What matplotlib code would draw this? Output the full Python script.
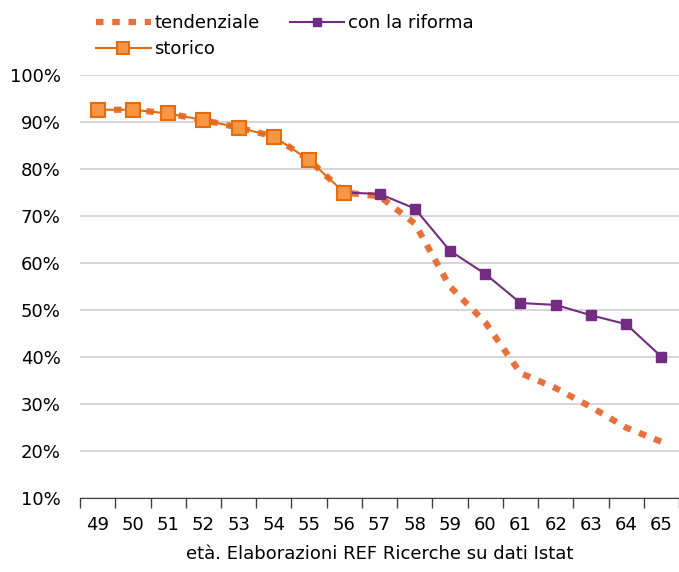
import matplotlib.pyplot as plt
import numpy as np
from matplotlib.ticker import FuncFormatter, FixedLocator

eta = list(range(49, 66))

# storico (dati osservati) fino a 56 anni
storico_eta = list(range(49, 57))
storico = [92.6, 92.6, 91.8, 90.4, 88.8, 86.9, 81.9, 75.0]

# tendenziale senza riforma
tendenziale = [92.6, 92.6, 91.8, 90.4, 88.8, 86.9, 81.9, 75.0,
               74.2, 68.4, 55.0, 47.4, 36.6, 33.4, 29.4, 25.0, 22.0]

# con la riforma, dai 56 anni in poi
riforma_eta = list(range(56, 66))
riforma = [75.0, 74.7, 71.6, 62.6, 57.7, 51.5, 51.1, 48.9, 47.0, 40.1]

fig = plt.figure(figsize=(6.79, 5.72), dpi=100)
ax = fig.add_axes([0.118, 0.129, 0.882, 0.74])

l_tend, = ax.plot(eta, tendenziale, ls=(0, (1.2, 1.4)), lw=4.5, color='#E8703A',
                  zorder=2, label='tendenziale')
l_rif, = ax.plot(riforma_eta, riforma, color='#732C82', lw=1.5, marker='s',
                 markersize=7, markevery=list(range(1, len(riforma))),
                 zorder=3, label='con la riforma')
l_sto, = ax.plot(storico_eta, storico, color='#E46C0A', lw=1.5, marker='s',
                 markersize=10, markerfacecolor='#F79646', markeredgecolor='#E46C0A',
                 markeredgewidth=1.5, zorder=4, label='storico')

ax.set_xlim(48.5, 65.5)
ax.set_ylim(10, 100)
ax.set_yticks(np.arange(10, 101, 10))
ax.yaxis.set_major_formatter(FuncFormatter(lambda v, p: f'{v:.0f}%'))
ax.grid(axis='y', color='#D0D0D0', lw=1.2)
ax.set_axisbelow(True)

ax.set_xticks(eta)
ax.xaxis.set_minor_locator(FixedLocator(np.arange(48.5, 66, 1)))
ax.tick_params(axis='x', which='major', length=0, pad=13, labelsize=13)
ax.tick_params(axis='x', which='minor', length=7, color='#404040', width=1)
ax.tick_params(axis='y', length=0, pad=14, labelsize=13)

for s in ['top', 'right', 'left']:
    ax.spines[s].set_visible(False)
ax.spines['bottom'].set_color('#404040')

ax.set_xlabel('età. Elaborazioni REF Ricerche su dati Istat', fontsize=13, labelpad=8)

fig.legend(handles=[l_tend, l_sto, l_rif], ncol=2, loc='upper left',
           bbox_to_anchor=(0.118, 1.004), frameon=False, fontsize=13,
           handlelength=3.0, handletextpad=0.2, columnspacing=1.7,
           labelspacing=0.45, markerscale=0.8)

fig.savefig('out.png', dpi=100)
